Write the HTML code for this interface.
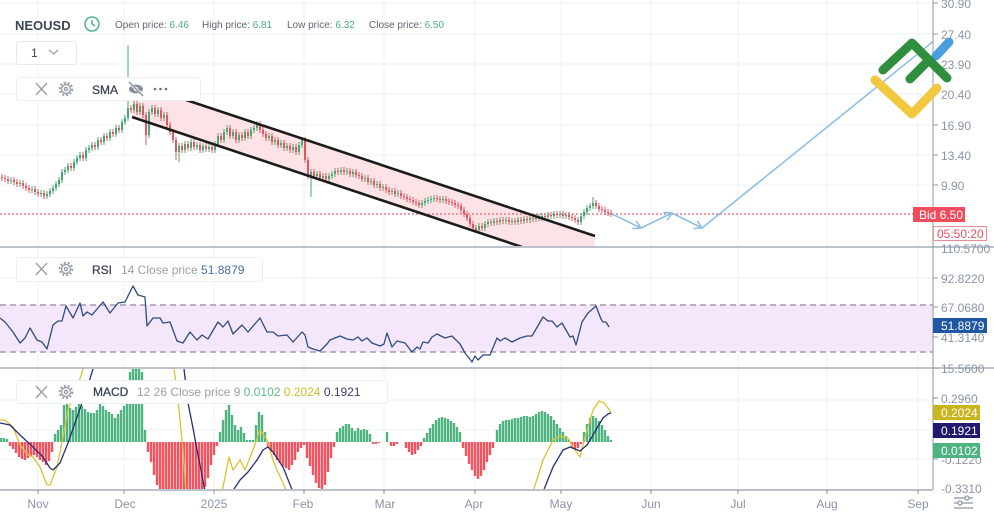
<!DOCTYPE html>
<html><head><meta charset="utf-8"><style>
html,body{margin:0;padding:0;background:#fff;width:994px;height:514px;overflow:hidden}
svg{display:block;font-family:"Liberation Sans",Arial,sans-serif}
</style></head><body>
<svg width="994" height="514" viewBox="0 0 994 514" xmlns="http://www.w3.org/2000/svg">
<defs>
<clipPath id="cm"><rect x="0" y="0" width="933" height="246"/></clipPath>
<clipPath id="cr"><rect x="0" y="248" width="933" height="120"/></clipPath>
<clipPath id="cd"><rect x="0" y="369" width="933" height="121"/></clipPath>
</defs>
<rect width="994" height="514" fill="#fff"/>
<!-- vertical grid -->
<g stroke="#eef0f3" stroke-width="1">
<path d="M38 0V490M124 0V490M214 0V490M304 0V490M384 0V490M475 0V490M561 0V490M651 0V490M738 0V490M827 0V490M918 0V490"/>
<path d="M0 3H933M0 34H933M0 64H933M0 94H933M0 125H933M0 155H933M0 185H933"/>
<path d="M0 278H933M0 307H933M0 337H933"/>
<path d="M0 400H933M0 430H933M0 459H933"/>
</g>
<!-- MAIN PANE -->
<g clip-path="url(#cm)">
<polygon points="132,82 595,236 595,271 132,117" fill="#fde3e6"/>
<path d="M0 214H933" stroke="#e06470" stroke-width="1.2" stroke-dasharray="2 2"/>
<g stroke="#45a872" fill="none">
<path stroke-width="1" d="M11 177V184M20 180V187M32 186V193M41 190V197M47 191V199M50 188V197M53 185V194M56 181V191M59 177V187M62 169V183M65 167V175M68 163V173M74 159V171M77 155V165M80 152V161M86 147V161M89 145V153M92 142V151M98 137V150M104 133V145M110 129V141M116 125V137M122 119V133M125 115V125M128 45V121M134 101V113M140 103V115M149 109V138M152 105V115M158 107V117M164 112V121M179 143V162M185 141V153M191 139V151M197 142V150M203 143V153M209 144V152M215 141V153M218 133V147M224 129V143M227 125V135M233 129V139M239 132V143M245 129V141M251 127V139M254 125V133M257 121V131M269 133V141M275 137V145M281 140V148M287 143V151M293 144V153M299 142V155M302 137V148M311 169V197M317 171V179M323 173V181M329 173V182M332 171V179M335 168V177M341 167V175M347 168V175M353 169V177M365 175V182M371 178V185M377 181V188M383 184V191M392 188V195M398 190V197M422 200V208M425 198V206M428 197V204M431 196V203M434 195V202M443 196V203M479 223V233M485 221V231M488 219V227M494 218V226M500 217V225M506 217V224M512 218V225M518 217V225M524 216V224M530 215V223M536 214V222M542 213V221M548 212V220M554 211V219M560 211V218M566 212V219M581 213V225M584 209V219M587 205V215M590 203V211M593 197V209"/>
<path stroke-width="2" d="M11 180V181M20 183V184M32 189V190M41 193V194M47 194V196M50 191V194M53 188V191M56 184V188M59 180V184M62 172V180M65 170V172M68 166V170M74 162V168M77 158V162M80 155V158M86 150V158M89 148V150M92 145V148M98 140V147M104 136V142M110 132V138M116 128V134M122 122V130M125 118V122M128 108V118M134 104V110M140 106V112M149 112V135M152 108V112M158 110V114M164 115V118M179 146V152M185 144V150M191 142V148M197 145V147M203 146V150M209 147V149M215 144V150M218 136V144M224 132V140M227 128V132M233 132V136M239 135V140M245 132V138M251 130V136M254 128V130M257 124V128M269 136V138M275 140V142M281 143V145M287 146V148M293 147V150M299 145V152M302 140V145M311 172V176M317 174V176M323 176V178M329 176V179M332 174V176M335 171V174M341 170V172M347 171V172M353 172V174M365 178V179M371 181V182M377 184V185M383 187V188M392 191V192M398 193V194M422 203V205M425 201V203M428 200V201M431 199V200M434 198V199M443 199V200M479 226V230M485 224V228M488 222V224M494 221V223M500 220V222M506 220V221M512 221V222M518 220V222M524 219V221M530 218V220M536 217V219M542 216V218M548 215V217M554 214V216M560 214V215M566 215V216M581 216V222M584 212V216M587 208V212M590 206V208M593 203V206"/>
</g>
<g stroke="#e25563" fill="none">
<path stroke-width="1" d="M2 174V181M5 175V182M8 176V184M14 177V185M17 179V187M23 180V189M26 183V191M29 185V193M35 186V195M38 189V197M44 190V199M71 163V171M83 152V161M95 142V150M101 137V145M107 133V141M113 129V137M119 125V133M131 105V113M137 101V115M143 103V118M146 112V145M155 105V117M161 107V121M167 112V128M170 122V135M173 129V143M176 137V160M182 143V153M188 141V151M194 139V150M200 142V153M206 143V152M212 144V153M221 133V143M230 125V139M236 129V143M242 132V141M248 129V139M260 121V133M263 127V137M266 131V141M272 133V145M278 137V148M284 140V151M290 143V153M296 144V155M305 137V163M308 157V179M314 169V179M320 171V181M326 173V182M338 168V175M344 167V175M350 168V177M356 169V178M359 172V179M362 173V182M368 175V185M374 178V188M380 181V191M386 184V193M389 187V195M395 188V197M401 190V199M404 193V200M407 194V202M410 196V203M413 197V205M416 199V206M419 200V208M437 195V202M440 196V203M446 196V204M449 198V205M452 199V206M455 200V208M458 202V209M461 203V213M464 207V217M467 211V221M470 215V227M473 221V231M476 225V233M482 223V231M491 219V226M497 218V225M503 217V224M509 217V225M515 218V225M521 217V224M527 216V223M533 215V222M539 214V221M545 213V220M551 212V219M557 211V218M563 211V219M569 212V220M572 214V221M575 215V223M578 217V225M596 200V209M599 203V212M602 206V213M605 207V215M608 209V216M611 210V217"/>
<path stroke-width="2" d="M2 177V178M5 178V179M8 179V181M14 180V182M17 182V184M23 183V186M26 186V188M29 188V190M35 189V192M38 192V194M44 193V196M71 166V168M83 155V158M95 145V147M101 140V142M107 136V138M113 132V134M119 128V130M131 108V110M137 104V112M143 106V115M146 115V135M155 108V114M161 110V118M167 115V125M170 125V132M173 132V140M176 140V152M182 146V150M188 144V148M194 142V147M200 145V150M206 146V149M212 147V150M221 136V140M230 128V136M236 132V140M242 135V138M248 132V136M260 124V130M263 130V134M266 134V138M272 136V142M278 140V145M284 143V148M290 146V150M296 147V152M305 140V160M308 160V176M314 172V176M320 174V178M326 176V179M338 171V172M344 170V172M350 171V174M356 172V175M359 175V176M362 176V179M368 178V182M374 181V185M380 184V188M386 187V190M389 190V192M395 191V194M401 193V196M404 196V197M407 197V199M410 199V200M413 200V202M416 202V203M419 203V205M437 198V199M440 199V200M446 199V201M449 201V202M452 202V203M455 203V205M458 205V206M461 206V210M464 210V214M467 214V218M470 218V224M473 224V228M476 228V230M482 226V228M491 222V223M497 221V222M503 220V221M509 220V222M515 221V222M521 220V221M527 219V220M533 218V219M539 217V218M545 216V217M551 215V216M557 214V215M563 214V216M569 215V217M572 217V218M575 218V220M578 220V222M596 203V206M599 206V209M602 209V210M605 210V212M608 212V213M611 213V214"/>
</g>
<path d="M132 82L595 236M132 117L522 247" stroke="#1c1c1c" stroke-width="2.6" fill="none"/>
<g stroke="#8ec0e4" stroke-width="1.6" fill="none" stroke-linecap="round" stroke-linejoin="round">
<path d="M612 214L641 228L672 213L702 228L940 36"/>
<path d="M636.5 221.4L641 228L633 228.6M664 212.4L672 213L667.5 219.6M697.6 221.3L702 228L694 228.5"/>
</g>
<!-- header boxes -->
<rect x="16.5" y="41.5" width="60" height="23" rx="3" fill="#fff" stroke="#e6e8eb"/>
<rect x="16.5" y="77.5" width="184" height="23" rx="3" fill="#fff" stroke="#eceef1"/>
</g>
<!-- header -->
<text x="15" y="30" font-size="13" font-weight="bold" fill="#3d4657">NEOUSD</text>
<g stroke="#4fb683" stroke-width="1.5" fill="none"><circle cx="92" cy="24" r="7"/><path d="M92 20V24L95 26"/></g>
<g font-size="10">
<text x="115" y="28" fill="#5f6673">Open price: <tspan fill="#4cae7e">6.46</tspan></text>
<text x="202" y="28" fill="#5f6673">High price: <tspan fill="#4cae7e">6.81</tspan></text>
<text x="287" y="28" fill="#5f6673">Low price: <tspan fill="#4cae7e">6.32</tspan></text>
<text x="369" y="28" fill="#5f6673">Close price: <tspan fill="#4cae7e">6.50</tspan></text>
</g>
<text x="31" y="57" font-size="12" fill="#3d4657">1</text>
<path d="M49 50L53.5 54L58 50" stroke="#9aa0a8" stroke-width="1.2" fill="none"/>
<!-- SMA legend -->
<g stroke="#9aa0a8" stroke-width="1.4" fill="none">
<path d="M36 83L47 95M47 83L36 95"/>
<circle cx="66" cy="89" r="4.5"/><circle cx="66" cy="89" r="6.3" stroke-dasharray="2 1.9" stroke-width="2"/><circle cx="66" cy="89" r="1.6"/>
</g>
<text x="92" y="94" font-size="12" fill="#3d4657" stroke="#3d4657" stroke-width="0.3">SMA</text>
<g fill="#8a909a"><ellipse cx="136" cy="89" rx="7" ry="4.5"/><circle cx="136" cy="89" r="2" fill="#fff"/></g>
<path d="M129 83L143 95" stroke="#fff" stroke-width="2.5"/><path d="M129 82L143 96" stroke="#8a909a" stroke-width="1.4"/>
<g fill="#6b7280"><circle cx="155" cy="89" r="1.3"/><circle cx="160.5" cy="89" r="1.3"/><circle cx="166" cy="89" r="1.3"/></g>

<!-- RSI PANE -->
<g clip-path="url(#cr)">
<rect x="0" y="305" width="933" height="47" fill="#f4e7fc"/>
<path d="M0 305H933M0 352H933" stroke="#a29caa" stroke-width="1.4" stroke-dasharray="6 4"/>
<polyline fill="none" stroke="#2f4b80" stroke-width="1.3" stroke-linejoin="round" points="0,318 5,322 13,332 20,343 25,338 30,328 37,340 42,342 47,349 53,325 58,321 62,321 66,306 73,318 80,303 83,316 87,312 92,315 103,302 110,313 118,303 125,302 133,286 138,295 145,297 147,326 153,318 160,318 163,323 170,322 177,341 183,343 190,332 197,340 202,335 208,339 218,322 223,327 228,321 233,334 242,325 248,332 260,318 267,332 273,332 278,336 287,335 293,342 302,332 305,335 308,347 313,349 320,351 327,344 330,340 340,336 347,339 353,340 358,337 362,341 367,338 372,343 380,346 384,344 387,333 392,347 397,341 405,343 412,352 417,347 420,349 423,342 428,343 432,337 437,334 445,338 452,336 460,344 465,353 472,362 475,356 478,360 483,355 490,355 497,338 500,341 505,338 512,342 520,338 527,336 532,336 543,317 548,321 552,321 557,327 562,323 570,337 573,336 576,345 582,322 588,313 596,306 601,319 603,322 606,322 609,327"/>
</g>
<rect x="16.5" y="257.5" width="246" height="24" rx="3" fill="#fff" stroke="#eceef1"/>
<g stroke="#9aa0a8" stroke-width="1.4" fill="none">
<path d="M36 263L47 275M47 263L36 275"/>
<circle cx="66" cy="269" r="4.5"/><circle cx="66" cy="269" r="6.3" stroke-dasharray="2 1.9" stroke-width="2"/><circle cx="66" cy="269" r="1.6"/>
</g>
<text x="92" y="274" font-size="12" fill="#3d4657" stroke="#3d4657" stroke-width="0.3">RSI</text>
<text x="121" y="274" font-size="12" fill="#9aa0aa">14 Close price <tspan fill="#4a6ea8">51.8879</tspan></text>

<!-- MACD PANE -->
<g clip-path="url(#cd)">
<path stroke="#4fb37f" stroke-width="2.4" fill="none" d="M1 442V438M4 442V438M7 442V439M55 442V434M58 442V430M61 442V425M64 442V405M67 442V403M70 442V408M73 442V410M76 442V407M79 442V404M82 442V406M85 442V409M88 442V412M91 442V413M94 442V413M97 442V410M100 442V404M103 442V406M106 442V410M109 442V412M112 442V414M115 442V418M118 442V414M121 442V410M124 442V406M127 442V380M130 442V372M133 442V369M136 442V369M139 442V369M142 442V372M145 442V430M220 442V432M223 442V420M226 442V410M229 442V405M232 442V415M235 442V425M238 442V430M241 442V427M244 442V433M247 442V440M250 442V440M253 442V440M256 442V425M259 442V412M262 442V415M265 442V432M337 442V432M340 442V428M343 442V426M346 442V424M349 442V424M352 442V428M355 442V431M358 442V428M361 442V430M364 442V429M367 442V430M370 442V434M387 442V432M424 442V438M427 442V433M430 442V428M433 442V424M436 442V420M439 442V418M442 442V417M445 442V418M448 442V419M451 442V421M454 442V423M457 442V427M460 442V432M497 442V430M500 442V424M503 442V421M506 442V420M509 442V420M512 442V419M515 442V418M518 442V418M521 442V417M524 442V416M527 442V416M530 442V417M533 442V416M536 442V414M539 442V412M542 442V411M545 442V412M548 442V414M551 442V416M554 442V420M557 442V424M560 442V428M563 442V432M566 442V436M569 442V440M584 442V432M587 442V424M590 442V418M593 442V416M596 442V418M599 442V421M602 442V425M605 442V430M608 442V436M611 442V440"/>
<path stroke="#f5525f" stroke-width="2.4" fill="none" d="M10 442V446M13 442V449M16 442V453M19 442V457M22 442V459M25 442V460M28 442V458M31 442V456M34 442V455M37 442V457M40 442V460M43 442V462M46 442V465M49 442V461M52 442V452M148 442V452M151 442V462M154 442V475M157 442V485M160 442V492M163 442V492M166 442V492M169 442V492M172 442V492M175 442V492M178 442V492M181 442V492M184 442V492M187 442V492M190 442V492M193 442V492M196 442V492M199 442V492M202 442V492M205 442V487M208 442V478M211 442V465M214 442V455M217 442V446M268 442V448M271 442V452M274 442V455M277 442V460M280 442V463M283 442V466M286 442V468M289 442V470M292 442V465M295 442V460M298 442V452M301 442V448M304 442V445M307 442V458M310 442V466M313 442V475M316 442V483M319 442V488M322 442V490M325 442V485M328 442V472M331 442V458M334 442V447M373 442V444M376 442V444M379 442V443M391 442V446M394 442V446M397 442V444M406 442V448M409 442V452M412 442V455M415 442V454M418 442V450M421 442V446M463 442V448M466 442V456M469 442V464M472 442V470M475 442V476M478 442V479M481 442V476M484 442V470M487 442V462M490 442V455M493 442V448M572 442V448M575 442V449M578 442V448M581 442V444"/>
<g fill="none" stroke-width="1.3" stroke-linejoin="round">
<path stroke="#dcc232" d="M0 420L5 420L13 427L20 445L28 455L33 457L40 467L47 485L50 485L57 467L63 437L68 410L72 400L78 385L83 369M174 369L177 390L180 420L183 450L186 492M222 492L229 457L233 470L240 460L245 470L253 450L260 430L267 440L272 457L277 470L283 483L287 492M533 492L543 460L553 440L560 436L568 438L573 447L577 453L580 457L585 437L593 410L599 401L604 403L608 408L611 413"/>
<path stroke="#2a2d74" d="M0 423L10 425L20 435L33 447L43 457L50 468L53 470L60 463L68 443L75 423L82 403L88 385L93 369M184 369L188 403L193 428L197 450L201 470L205 492M232 492L240 480L248 472L257 460L263 450L268 447L273 452L283 467L293 492M543 492L553 467L563 450L570 447L575 449L580 451L587 445L592 437L597 428L603 418L608 414L611 413"/>
</g>
</g>
<rect x="16.5" y="380.5" width="371" height="23" rx="3" fill="#fff" stroke="#eceef1"/>
<g stroke="#9aa0a8" stroke-width="1.4" fill="none">
<path d="M36 386L47 398M47 386L36 398"/>
<circle cx="66" cy="392" r="4.5"/><circle cx="66" cy="392" r="6.3" stroke-dasharray="2 1.9" stroke-width="2"/><circle cx="66" cy="392" r="1.6"/>
</g>
<text x="93" y="396" font-size="12" fill="#3d4657" stroke="#3d4657" stroke-width="0.3">MACD</text>
<text x="137" y="396" font-size="12" fill="#9aa0aa">12 26 Close price 9 <tspan fill="#5cb88a">0.0102</tspan> <tspan fill="#c9bd2a">0.2024</tspan> <tspan fill="#3b3f7a">0.1921</tspan></text>

<!-- separators & axes -->
<path d="M0 247H994M0 368H994" stroke="#bcc2cb" stroke-width="2"/>
<path d="M933 0V490" stroke="#8e96a3" stroke-width="1"/>
<path d="M0 490H933" stroke="#bcc2cb" stroke-width="2"/>
<g stroke="#8e96a3" stroke-width="1">
<path d="M933 3H938M933 34H938M933 64H938M933 94H938M933 125H938M933 155H938M933 185H938M933 278H938M933 307H938M933 337H938M933 398H938M933 459H938"/>
<path d="M38 490V494M124 490V494M214 490V494M304 490V494M384 490V494M475 490V494M561 490V494M651 490V494M738 490V494M827 490V494M918 490V494"/>
</g>
<g font-size="12" fill="#8c94a6">
<text x="941" y="8">30.90</text>
<text x="941" y="39">27.40</text>
<text x="941" y="69">23.90</text>
<text x="941" y="99">20.40</text>
<text x="941" y="130">16.90</text>
<text x="941" y="160">13.40</text>
<text x="941" y="190">9.90</text>
<text x="941" y="253">110.5700</text>
<text x="941" y="283">92.8220</text>
<text x="941" y="312">67.0680</text>
<text x="941" y="342">41.3140</text>
<text x="941" y="373">15.5600</text>
<text x="941" y="403">0.2960</text>
<text x="941" y="464">-0.1220</text>
<text x="941" y="493">-0.3310</text>
<g text-anchor="middle">
<text x="38" y="508">Nov</text><text x="125" y="508">Dec</text><text x="214" y="508">2025</text><text x="303" y="508">Feb</text><text x="385" y="508">Mar</text><text x="474" y="508">Apr</text><text x="561" y="508">May</text><text x="651" y="508">Jun</text><text x="738" y="508">Jul</text><text x="827" y="508">Aug</text><text x="918" y="508">Sep</text>
</g>
</g>
<!-- price tags -->
<rect x="913" y="207" width="52" height="15" fill="#f14c5c"/>
<text x="919" y="219" font-size="12" fill="#fff">Bid 6.50</text>
<rect x="933.5" y="226.5" width="53" height="14" fill="#fff" stroke="#f08a96"/>
<text x="937" y="238" font-size="12" fill="#e8505f">05:50:20</text>
<rect x="933" y="318" width="54" height="15" fill="#1e57a3"/>
<text x="941" y="330" font-size="12" fill="#fff">51.8879</text>
<rect x="933" y="405" width="47" height="15" fill="#c9b51e"/>
<text x="941" y="417" font-size="12" fill="#fff">0.2024</text>
<rect x="933" y="423" width="47" height="15" fill="#20196e"/>
<text x="941" y="435" font-size="12" fill="#fff">0.1921</text>
<rect x="933" y="443" width="47" height="15" fill="#4db380"/>
<text x="941" y="455" font-size="12" fill="#fff">0.0102</text>
<!-- settings icon -->
<g stroke="#8c94a6" stroke-width="1.2" fill="#fff">
<path d="M954 498H973M954 503H973M954 508H973"/>
<circle cx="967" cy="498" r="2"/><circle cx="960" cy="503" r="2"/>
</g>
<!-- logo -->
<g fill="none" stroke-linecap="round" stroke-linejoin="round" stroke-width="9">
<path d="M936 56L949 42" stroke="#4a9ee0"/>
<path d="M875 80L912 114L937 88" stroke="#f2c840"/>
<path d="M883 70L912 43L947 78M910 79L928 61" stroke="#2f8f3f"/>
</g>
</svg>
</body></html>
